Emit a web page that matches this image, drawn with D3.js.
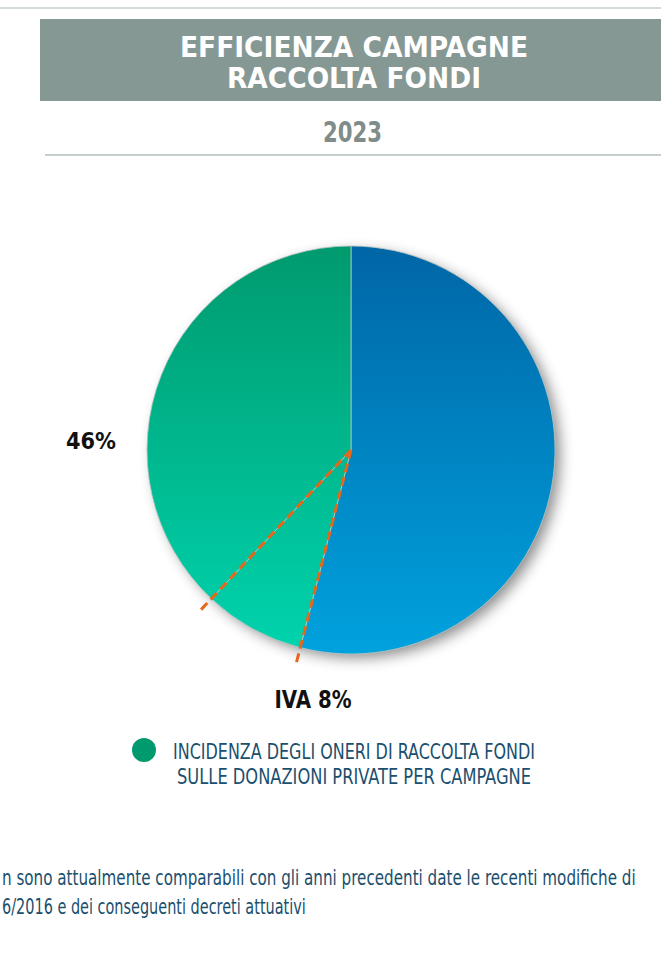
<!DOCTYPE html>
<html>
<head>
<meta charset="utf-8">
<script src="https://cdn.jsdelivr.net/npm/d3@7"></script>
<style>
  body { margin: 0; background: #fff; }
  svg { display: block; }
</style>
</head>
<body>
<div id="chart"></div>
<script>
const titleLines = ["EFFICIENZA CAMPAGNE", "RACCOLTA FONDI"];
const yearLabel = "2023";
const sliceNames = ["Altro", "IVA", "Oneri di raccolta fondi"];
const sliceValues = [54, 8, 38];
const pieLabels = [{ text: "46%", x: 91, y: 449, w: 50, size: 23 }, { text: "IVA 8%", x: 313, y: 708, w: 77, size: 24 }];
const legendLines = ["INCIDENZA DEGLI ONERI DI RACCOLTA FONDI", "SULLE DONAZIONI PRIVATE PER CAMPAGNE"];
const noteLines = [
  "n sono attualmente comparabili con gli anni precedenti date le recenti modifiche di",
  "6/2016 e dei conseguenti decreti attuativi"
];

const width = 661, height = 966;
const font = "'DejaVu Sans Condensed', 'Liberation Sans Narrow', sans-serif";

const svg = d3.select("#chart").append("svg")
    .attr("width", width)
    .attr("height", height);

const defs = svg.append("defs");

// header
svg.append("line")
    .attr("x1", 0).attr("x2", width)
    .attr("y1", 8).attr("y2", 8)
    .attr("stroke", "#d3dcda")
    .attr("stroke-width", 2);

svg.append("rect")
    .attr("x", 40).attr("y", 19)
    .attr("width", width - 40).attr("height", 82)
    .attr("fill", "#869894");

const titleWidths = [348, 254];
svg.selectAll("text.title")
    .data(titleLines)
    .join("text")
    .attr("class", "title")
    .attr("x", 354)
    .attr("y", (d, i) => 57 + i * 31)
    .attr("text-anchor", "middle")
    .attr("fill", "#fff")
    .attr("font-family", font)
    .attr("font-weight", "bold")
    .attr("font-size", 29)
    .attr("textLength", (d, i) => titleWidths[i])
    .attr("lengthAdjust", "spacingAndGlyphs")
    .text(d => d);

svg.append("text")
    .attr("x", 352.5).attr("y", 142)
    .attr("text-anchor", "middle")
    .attr("fill", "#7f8c89")
    .attr("font-family", font)
    .attr("font-weight", "bold")
    .attr("font-size", 29)
    .attr("textLength", 59)
    .attr("lengthAdjust", "spacingAndGlyphs")
    .text(yearLabel);

svg.append("line")
    .attr("x1", 45).attr("x2", width)
    .attr("y1", 155).attr("y2", 155)
    .attr("stroke", "#c5cfcc")
    .attr("stroke-width", 2);

// pie
const cx = 351, cy = 450, r = 204;

const blueGrad = defs.append("linearGradient")
    .attr("id", "blueGrad")
    .attr("gradientUnits", "userSpaceOnUse")
    .attr("x1", 0).attr("x2", 0)
    .attr("y1", -r).attr("y2", r);
blueGrad.append("stop").attr("offset", 0).attr("stop-color", "#0066a6");
blueGrad.append("stop").attr("offset", 1).attr("stop-color", "#00a2de");

const greenGrad = defs.append("linearGradient")
    .attr("id", "greenGrad")
    .attr("gradientUnits", "userSpaceOnUse")
    .attr("x1", 0).attr("x2", 0)
    .attr("y1", -r).attr("y2", r);
greenGrad.append("stop").attr("offset", 0).attr("stop-color", "#009a6e");
greenGrad.append("stop").attr("offset", 1).attr("stop-color", "#00d4ae");

const shadow = defs.append("filter")
    .attr("id", "shadow")
    .attr("x", "-20%").attr("y", "-20%")
    .attr("width", "140%").attr("height", "140%");
shadow.append("feDropShadow")
    .attr("dx", 6).attr("dy", 5)
    .attr("stdDeviation", 7)
    .attr("flood-color", "#000")
    .attr("flood-opacity", 0.45);

const fills = ["url(#blueGrad)", "url(#greenGrad)", "url(#greenGrad)"];

const pie = d3.pie().sort(null).value(d => d);
const arcs = pie(sliceValues);
const arc = d3.arc().innerRadius(0).outerRadius(r);

const g = svg.append("g").attr("transform", `translate(${cx},${cy})`);

g.append("circle")
    .attr("r", r - 1)
    .attr("fill", "#fff")
    .attr("filter", "url(#shadow)");

g.selectAll("path.slice")
    .data(arcs)
    .join("path")
    .attr("class", "slice")
    .attr("d", arc)
    .attr("fill", (d, i) => fills[i])
    .attr("stroke", "#b9c6c4")
    .attr("stroke-width", 0.8);

// dashed orange lines on the IVA slice borders
const ivaArc = arcs[1];
const ext = r + 16;
g.selectAll("line.dash")
    .data([ivaArc.startAngle, ivaArc.endAngle])
    .join("line")
    .attr("class", "dash")
    .attr("x1", 0).attr("y1", 0)
    .attr("x2", a => Math.sin(a) * ext)
    .attr("y2", a => -Math.cos(a) * ext)
    .attr("stroke", "#e8661a")
    .attr("stroke-width", 3)
    .attr("stroke-dasharray", "9,5");

svg.selectAll("text.pielabel")
    .data(pieLabels)
    .join("text")
    .attr("class", "pielabel")
    .attr("x", d => d.x)
    .attr("y", d => d.y)
    .attr("text-anchor", "middle")
    .attr("fill", "#111")
    .attr("font-family", font)
    .attr("font-weight", "bold")
    .attr("font-size", d => d.size)
    .attr("textLength", d => d.w)
    .attr("lengthAdjust", "spacingAndGlyphs")
    .text(d => d.text);

// legend
svg.append("circle")
    .attr("cx", 144).attr("cy", 750)
    .attr("r", 12)
    .attr("fill", "#009a6e");

const legendX = [173, 177], legendW = [362, 354];
svg.selectAll("text.legend")
    .data(legendLines)
    .join("text")
    .attr("class", "legend")
    .attr("x", (d, i) => legendX[i])
    .attr("y", (d, i) => 759 + i * 25)
    .attr("fill", "#1b4f6e")
    .attr("font-family", font)
    .attr("font-size", 22)
    .attr("textLength", (d, i) => legendW[i])
    .attr("lengthAdjust", "spacingAndGlyphs")
    .text(d => d);

// footnote: squeeze horizontally with a transform so the real box fits the page
const noteW = [634, 304];
svg.selectAll("g.note")
    .data(noteLines)
    .join("g")
    .attr("class", "note")
    .each(function (d, i) {
        const t = d3.select(this).append("text")
            .attr("fill", "#1b4f6e")
            .attr("font-family", font)
            .attr("font-size", 21)
            .text(d);
        const natural = t.node().getComputedTextLength();
        d3.select(this).attr("transform", `translate(2,${885 + i * 29}) scale(${noteW[i] / natural},1)`);
    });
</script>
</body>
</html>
